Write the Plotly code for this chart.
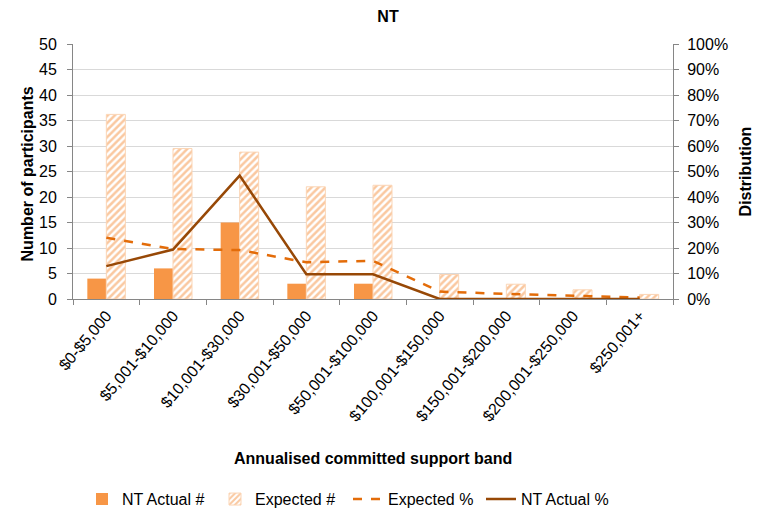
import plotly.graph_objects as go

categories = ["$0-$5,000", "$5,001-$10,000", "$10,001-$30,000", "$30,001-$50,000",
              "$50,001-$100,000", "$100,001-$150,000", "$150,001-$200,000",
              "$200,001-$250,000", "$250,001+"]
nt_actual = [4, 6, 15, 3, 3, 0, 0, 0, 0]
expected_n = [36.2, 29.5, 28.8, 22.0, 22.3, 4.8, 2.9, 1.8, 0.9]
expected_pct = [0.24, 0.196, 0.192, 0.144, 0.15, 0.029, 0.02, 0.012, 0.006]
actual_pct = [0.129, 0.194, 0.484, 0.097, 0.097, 0, 0, 0, 0]

font = "Liberation Sans, Arial, sans-serif"
grid = "#D9D9D9"
axis_col = "#868686"

fig = go.Figure()
fig.add_trace(go.Bar(x=categories, y=nt_actual, name="NT Actual #",
                     marker=dict(color="#F79646", line=dict(width=0))))
fig.add_trace(go.Bar(x=categories, y=expected_n, name="Expected #",
                     marker=dict(color="#FBD5B5",
                                 line=dict(color="#FBD5B5", width=1),
                                 pattern=dict(shape="/", fgcolor="#FAC8A0", bgcolor="white",
                                              size=5, solidity=0.5, fillmode="replace"))))
fig.add_trace(go.Scatter(x=categories, y=expected_pct, name="Expected %", yaxis="y2",
                         mode="lines", line=dict(color="#E36C09", width=2.5, dash="dash")))
fig.add_trace(go.Scatter(x=categories, y=actual_pct, name="NT Actual %", yaxis="y2",
                         mode="lines", line=dict(color="#974806", width=2.5)))

fig.update_layout(
    width=760, height=517,
    margin=dict(l=65, r=95, t=36, b=226, autoexpand=False),
    paper_bgcolor="white", plot_bgcolor="white",
    font=dict(family=font, size=16, color="black"),
    title=dict(text="<b>NT</b>", x=0.5, xanchor="center", y=0.995, yanchor="top",
               font=dict(size=16)),
    barmode="group", bargap=0.43, bargroupgap=0,
    showlegend=True,
    legend=dict(orientation="h", x=0.015, xanchor="left", yref="container", y=0.05,
                yanchor="middle", font=dict(size=16), traceorder="normal",
                entrywidth=88, entrywidthmode="pixels"),
    xaxis=dict(tickangle=-50, showline=True, linecolor=axis_col, ticks="outside",
               tickson="boundaries", tickcolor=axis_col, ticklen=5, automargin=False,
               tickfont=dict(size=16)),
    yaxis=dict(range=[0, 50], dtick=5, showline=True, linecolor=axis_col, ticks="outside",
               tickcolor=axis_col, ticklen=5, gridcolor=grid, zeroline=False,
               ticklabelstandoff=7, automargin=False,
               tickfont=dict(size=16)),
    yaxis2=dict(range=[0, 1], dtick=0.1, tickformat=".0%", overlaying="y", side="right",
                showline=True, linecolor=axis_col, ticks="outside", tickcolor=axis_col,
                ticklen=5, showgrid=False, zeroline=False, ticklabelstandoff=5,
                automargin=False,
                title=dict(text="<b>Distribution</b>", font=dict(size=16), standoff=12),
                tickfont=dict(size=16)),
    annotations=[
        dict(text="<b>Number of participants</b>", xref="paper", yref="paper",
             x=-0.076, y=0.49, xanchor="center", yanchor="middle", textangle=-90,
             showarrow=False, font=dict(size=16)),
        dict(text="<b>Annualised committed support band</b>", xref="paper", yref="paper",
             x=0.5, y=-0.624, xanchor="center", yanchor="middle",
             showarrow=False, font=dict(size=16)),
    ],
)

fig.write_html("out.html")
